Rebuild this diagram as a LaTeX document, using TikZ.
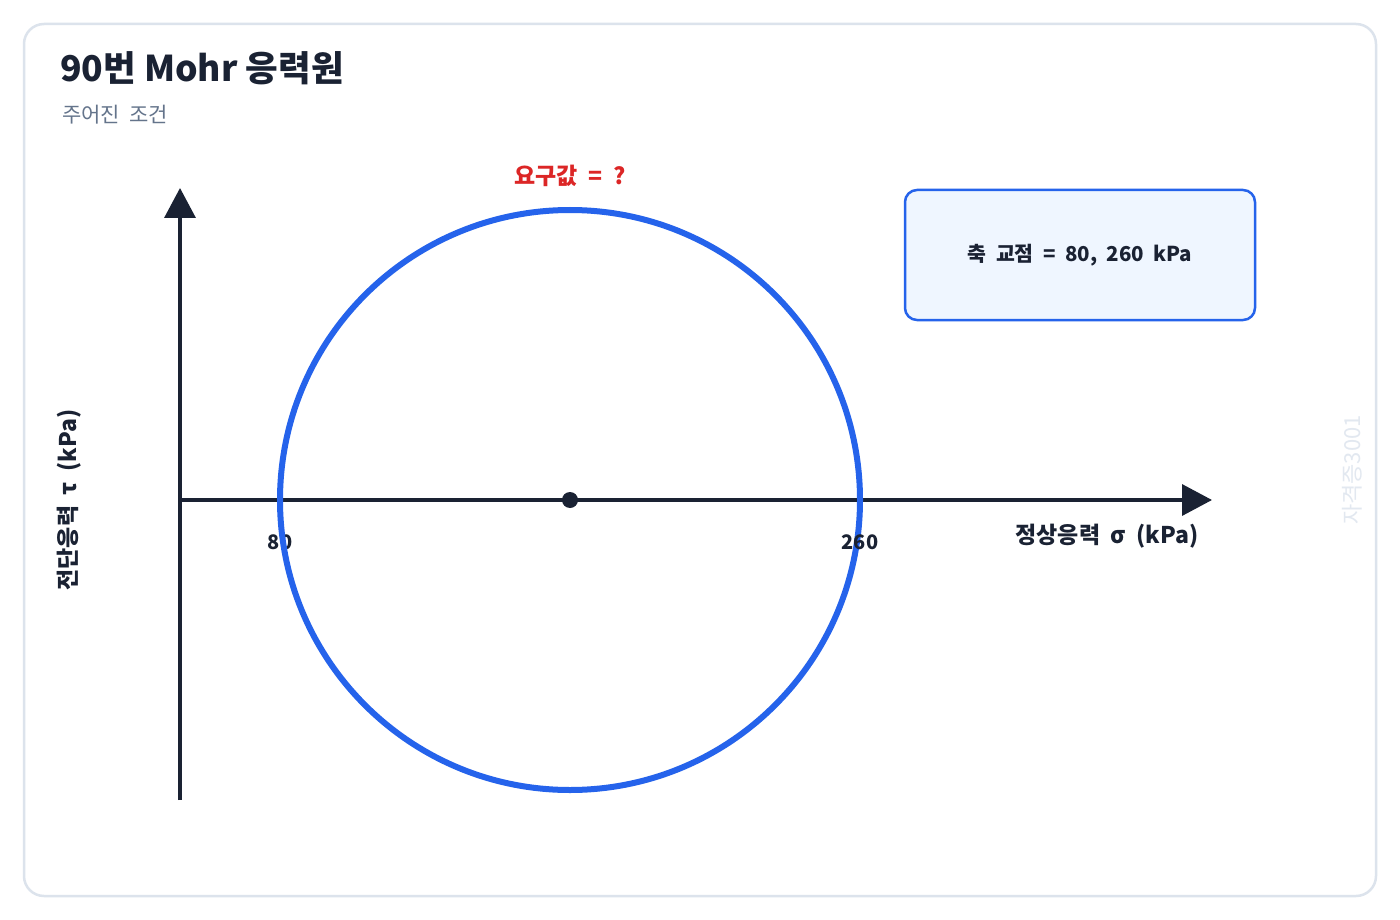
\documentclass[tikz,border=0pt]{standalone}
\usepackage{fontspec}
\setmainfont{Noto Sans CJK KR}[WordSpace=2]
\newfontfamily\titlefont{Noto Sans CJK KR}
\usetikzlibrary{arrows.meta}
\definecolor{ink}{HTML}{1A2233}
\definecolor{cardline}{HTML}{DCE3EC}
\definecolor{subgray}{HTML}{64748B}
\definecolor{mohrblue}{HTML}{2563EB}
\definecolor{boxfill}{HTML}{EFF6FF}
\definecolor{askred}{HTML}{DC2626}
\definecolor{wmark}{HTML}{E2E8F0}
\tikzset{
	axis/.style={line width=3.5pt, draw=ink, -{Triangle[length=30pt, width=31pt]}},
	ticklabel/.style={font=\fontsize{20}{24}\selectfont\bfseries, text=ink},
	axislabel/.style={font=\fontsize{23}{27}\selectfont\bfseries, text=ink},
	infobox/.style={draw=mohrblue, fill=boxfill, line width=2.5pt,
		rounded corners=12pt, minimum width=350pt, minimum height=130pt,
		font=\fontsize{20.5}{24}\selectfont\bfseries, text=ink}
}
\begin{document}
\begin{tikzpicture}[x=1pt, y=-1pt]
	% Hintergrund und Karte
	\fill[white] (0,0) rectangle (1400,920);
	\draw[draw=cardline, line width=2.5pt, rounded corners=20pt] (24,24) rectangle (1376,896);
	% Titel
	\node[anchor=base west, inner sep=0pt, text=ink] (title) at (60,82)
		{\titlefont\fontsize{35.5}{40}\selectfont\bfseries 90번 Mohr 응력원};
	\node[anchor=base west, inner sep=0pt, text=subgray] (subtitle) at (62,123)
		{\fontsize{21}{24}\selectfont 주어진 조건};
	% Achsen
	\coordinate (origin) at (180,500);
	\coordinate (xend) at (1212,500);
	\coordinate (ybot) at (180,800);
	\coordinate (yend) at (180,188);
	\draw[axis] (origin) -- (xend);
	\draw[axis] (ybot) -- (yend);
	\node[axislabel] (xlabel) at (1107,536) {정상응력 σ (kPa)};
	\node[axislabel, rotate=90] (ylabel) at (69,500) {전단응력 τ (kPa)};
	% Achsenwerte
	\node[ticklabel] (sig1) at (280,542) {80};
	% Kreis
	\coordinate (center) at (570,500);
	\draw[draw=mohrblue, line width=6pt] (center) circle (290pt);
	\fill[ink] (center) circle (8pt);
	\node[ticklabel] (sig3) at (860,542) {260};
	% Gesucht
	\node[font=\fontsize{23}{26}\selectfont\bfseries, text=askred] (ask) at (570,176) {요구값 = ?};
	% Kasten
	\node[infobox] (given) at (1080,255) {축 교점 = 80, 260 kPa};
	% Wasserzeichen
	\node[rotate=90, text=wmark, font=\fontsize{22}{26}\selectfont] (wm) at (1352,470) {자격증3001};
\end{tikzpicture}
\end{document}
